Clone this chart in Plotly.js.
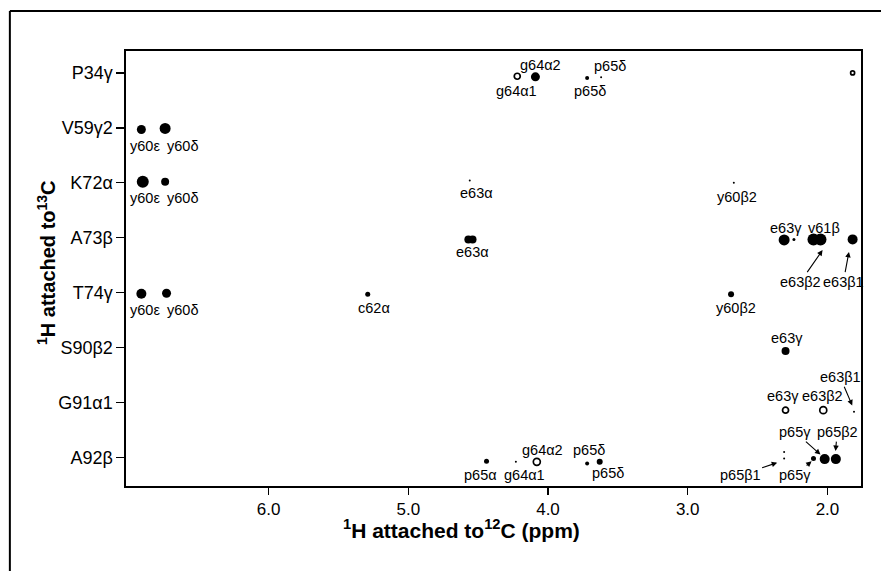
<!DOCTYPE html>
<html>
<head>
<meta charset="utf-8">
<script src="https://cdn.plot.ly/plotly-3.0.1.min.js"></script>
<style>html,body{margin:0;padding:0;background:#fff;}#chart{width:881px;height:571px;}</style>
</head>
<body>
<div id="chart"></div>
<script>
// Rows (1H attached to 13C)
var rowLabels = ["P34γ", "V59γ2", "K72α", "A73β", "T74γ", "S90β2", "G91α1", "A92β"];
var xTickVals = [6.0, 5.0, 4.0, 3.0, 2.0];

// Solid (strong) cross peaks: ppm, row position, intensity
var solidPpm = [4.09, 3.72, 3.62, 6.91, 6.74, 6.90, 6.74, 4.56, 2.67, 4.57, 4.54, 2.31, 2.24, 2.10, 2.05, 1.82, 6.91, 6.73, 5.29, 2.69, 2.30, 1.81, 4.44, 4.23, 3.72, 3.63, 2.31, 2.31, 2.10, 2.02, 1.94];
var solidRow = [0.07, 0.09, 0.08, 1.03, 1.01, 1.98, 1.98, 1.96, 2.00, 3.03, 3.03, 3.04, 3.03, 3.03, 3.03, 3.03, 4.02, 4.01, 4.03, 4.03, 5.06, 6.17, 7.07, 7.08, 7.11, 7.08, 6.90, 7.02, 7.02, 7.03, 7.03];
var solidInt = [9, 4, 2, 9, 11, 12, 8, 2, 2, 8, 8, 11, 3, 12, 12, 10, 10, 9, 5, 6, 8, 2, 5, 2, 4, 6, 2, 2, 5, 10, 10];

// Weak (open contour) cross peaks
var openPpm = [4.22, 1.82, 2.30, 2.03, 4.08];
var openRow = [0.06, 0.00, 6.14, 6.14, 7.08];
var openInt = [6, 4, 6, 7, 7];

// Assignment labels (no arrow)
var labelText = ["g64α2", "p65δ", "g64α1", "p65δ", "y60ε", "y60δ", "y60ε", "y60δ", "e63α", "y60β2", "e63α", "e63γ", "v61β", "y60ε", "y60δ", "c62α", "y60β2", "e63γ", "e63γ", "e63β2", "g64α2", "p65δ", "p65α", "g64α1", "p65δ"];
var labelPpm = [4.056, 3.559, 4.228, 3.699, 6.884, 6.615, 6.884, 6.615, 4.515, 2.647, 4.543, 2.300, 2.025, 6.884, 6.615, 5.248, 2.654, 2.292, 2.317, 2.038, 4.042, 3.706, 4.486, 4.171, 3.570];
var labelRow = [-0.146, -0.128, 0.328, 0.328, 1.33, 1.33, 2.28, 2.28, 2.19, 2.26, 3.26, 2.82, 2.82, 4.31, 4.31, 4.27, 4.27, 4.83, 5.88, 5.88, 6.87, 6.87, 7.32, 7.32, 7.29];

// Assignment labels with arrows: tail (label) and head (peak)
var arrowText = ["e63β2", "e63β1", "e63β1", "p65γ", "p65β2", "p65β1", "p65γ"];
var arrowTailPpm = [2.192, 1.886, 1.909, 2.231, 1.930, 2.625, 2.231];
var arrowTailRow = [3.80, 3.80, 5.54, 6.54, 6.54, 7.32, 7.32];
var arrowHeadPpm = [2.031, 1.845, 1.820, 2.045, 1.943, 2.353, 2.108];
var arrowHeadRow = [3.21, 3.24, 6.07, 6.96, 6.90, 7.09, 7.06];

var FONT = "Liberation Sans, Arial, Helvetica, sans-serif";
var LABEL_SIZE = 14.5;

var traces = [
  {
    type: "scatter", mode: "markers",
    x: solidPpm, y: solidRow,
    marker: {color: "#000", size: solidInt, opacity: 1, line: {width: 0}},
    hoverinfo: "x+y", showlegend: false
  },
  {
    type: "scatter", mode: "markers",
    x: openPpm, y: openRow,
    marker: {symbol: "circle-open", color: "#000", size: openInt, opacity: 1, line: {width: 1.7, color: "#000"}},
    hoverinfo: "x+y", showlegend: false
  }
];

var annotations = [];
for (var i = 0; i < labelText.length; i++) {
  annotations.push({
    x: labelPpm[i], y: labelRow[i], xref: "x", yref: "y",
    text: labelText[i], showarrow: false,
    font: {family: FONT, size: LABEL_SIZE, color: "#000"}
  });
}
for (var j = 0; j < arrowText.length; j++) {
  annotations.push({
    x: arrowHeadPpm[j], y: arrowHeadRow[j], xref: "x", yref: "y",
    ax: arrowTailPpm[j], ay: arrowTailRow[j], axref: "x", ayref: "y",
    text: arrowText[j], showarrow: true,
    arrowhead: 2, arrowsize: 1, arrowwidth: 1.1, arrowcolor: "#000",
    standoff: 1, startstandoff: 0,
    font: {family: FONT, size: LABEL_SIZE, color: "#000"}
  });
}
// Axis titles
annotations.push({
  xref: "paper", yref: "paper", x: 0.457, y: -0.099, xanchor: "center", yanchor: "middle",
  showarrow: false, text: "<b><sup>1</sup>H attached to<sup>12</sup>C (ppm)</b>",
  font: {family: FONT, size: 21, color: "#000"}
});
annotations.push({
  xref: "paper", yref: "paper", x: -0.1075, y: 0.515, xanchor: "center", yanchor: "middle",
  showarrow: false, textangle: -90, text: "<b><sup>1</sup>H attached to<sup>13</sup>C</b>",
  font: {family: FONT, size: 20, color: "#000"}
});

var layout = {
  width: 881, height: 571,
  margin: {l: 126, r: 20, t: 51, b: 85},
  paper_bgcolor: "#fff", plot_bgcolor: "#fff",
  font: {family: FONT, size: 14, color: "#000"},
  showlegend: false,
  xaxis: {
    range: [7.02, 1.76],
    tickvals: xTickVals,
    ticktext: xTickVals.map(function (v) { return v.toFixed(1); }),
    ticks: "outside", ticklen: 7, tickwidth: 1.3, tickcolor: "#000",
    showgrid: false, zeroline: false,
    showline: true, linecolor: "#000", linewidth: 1.6, mirror: true,
    tickfont: {family: FONT, size: 17, color: "#000"}
  },
  yaxis: {
    range: [7.52, -0.40],
    tickvals: rowLabels.map(function (_, k) { return k; }),
    ticktext: rowLabels,
    ticks: "outside", ticklen: 8, tickwidth: 1.3, tickcolor: "#000",
    showgrid: false, zeroline: false,
    showline: true, linecolor: "#000", linewidth: 1.6, mirror: true,
    tickfont: {family: FONT, size: 18, color: "#000"}
  },
  shapes: [
    {type: "line", xref: "paper", yref: "paper", x0: -0.158, x1: 1.03, y0: 1.092, y1: 1.092, line: {color: "#000", width: 2}},
    {type: "line", xref: "paper", yref: "paper", x0: -0.158, x1: -0.158, y0: 1.092, y1: -0.2, line: {color: "#000", width: 2}}
  ],
  annotations: annotations
};

Plotly.newPlot("chart", traces, layout, {displayModeBar: false, staticPlot: true});
</script>
</body>
</html>
